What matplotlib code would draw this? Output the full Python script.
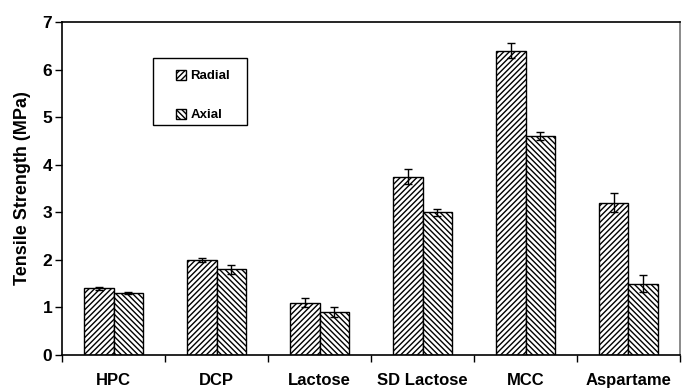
import numpy as np
import matplotlib
matplotlib.use("Agg")
import matplotlib.pyplot as plt
from matplotlib.patches import Rectangle

# Tensile strength data (MPa)
categories = ["HPC", "DCP", "Lactose", "SD Lactose", "MCC", "Aspartame"]
radial = [1.4, 2.0, 1.1, 3.75, 6.4, 3.2]
radial_err = [0.04, 0.04, 0.1, 0.15, 0.15, 0.2]
axial = [1.3, 1.8, 0.9, 3.0, 4.6, 1.5]
axial_err = [0.02, 0.1, 0.1, 0.07, 0.08, 0.18]
yticks = [0, 1, 2, 3, 4, 5, 6, 7]

plt.rcParams['font.family'] = ['Liberation Sans', 'DejaVu Sans']
plt.rcParams['hatch.linewidth'] = 1.0

fig = plt.figure(figsize=(6.83, 3.89), dpi=100)
ax = fig.add_axes([0.0908, 0.0874, 0.9048, 0.856])

x = np.arange(len(categories))
w = 0.285

ax.bar(x - w / 2, radial, w, color='white', edgecolor='black', hatch='//////',
       linewidth=1.0, label='Radial')
ax.bar(x + w / 2, axial, w, color='white', edgecolor='black', hatch='\\\\\\\\\\\\',
       linewidth=1.0, label='Axial')
ax.errorbar(x - w / 2, radial, yerr=radial_err, fmt='none', ecolor='black',
            elinewidth=1, capsize=3, capthick=1)
ax.errorbar(x + w / 2, axial, yerr=axial_err, fmt='none', ecolor='black',
            elinewidth=1, capsize=3, capthick=1)

ax.set_xlim(-0.5, len(categories) - 0.5)
ax.set_ylim(0, 7)
ax.set_yticks(yticks)
ax.set_yticklabels([str(t) for t in yticks], fontsize=12.5, fontweight='bold')
ax.set_xticks(np.arange(len(categories) + 1) - 0.5)
ax.set_xticklabels([])
ax.set_xticks(x, minor=True)
ax.set_xticklabels(categories, minor=True, fontsize=12, fontweight='bold')
ax.tick_params(axis='x', which='minor', length=0, pad=13)
ax.tick_params(axis='x', which='major', direction='out', length=5, width=1)
ax.tick_params(axis='y', direction='out', length=5, width=1, pad=2)

ax.set_ylabel("Tensile Strength (MPa)", fontsize=13, fontweight='bold', labelpad=8)

for side in ['left', 'bottom', 'top']:
    ax.spines[side].set_linewidth(1.2)
    ax.spines[side].set_color('black')
ax.spines['right'].set_color('#777777')
ax.spines['right'].set_linewidth(1.2)

# legend box drawn separately so the padding matches the original
ax.add_patch(Rectangle((0.147, 0.69), 0.152, 0.202, transform=ax.transAxes,
                       facecolor='white', edgecolor='black', linewidth=1.0,
                       zorder=4))
leg = ax.legend(loc='upper left', bbox_to_anchor=(0.184, 0.857), frameon=False,
                prop={'size': 9.5, 'weight': 'bold'},
                handlelength=0.8, handleheight=0.8, handletextpad=0.3,
                labelspacing=2.0, borderpad=0, borderaxespad=0)
leg.set_zorder(5)

fig.savefig("out.png", dpi=100)
